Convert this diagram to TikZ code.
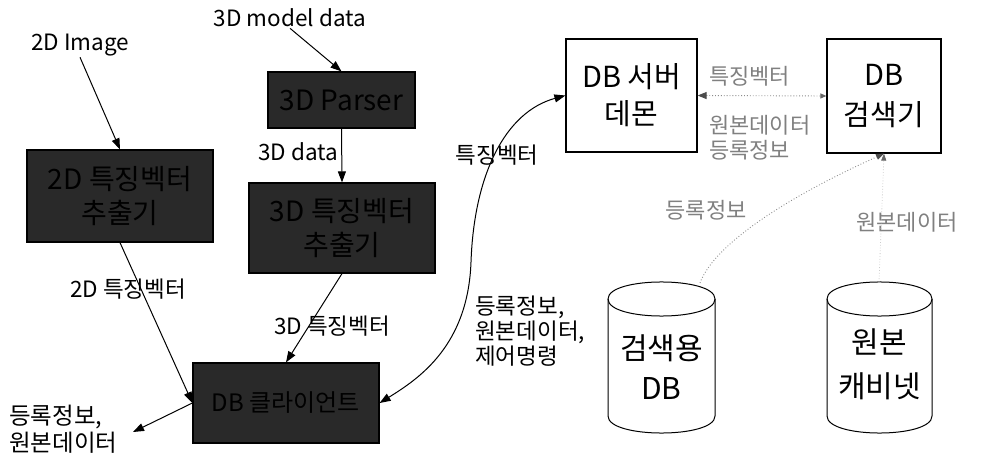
\documentclass[tikz,border=0pt]{standalone}
\usepackage{fontspec}
\setmainfont{Noto Sans CJK KR}
\usetikzlibrary{arrows.meta,calc}
\begin{document}
\begin{tikzpicture}[x=1pt,y=-1pt,
  arr/.style={-{Triangle[length=11pt,width=8pt]}, line width=1pt},
  dark/.style={draw=black, line width=1.2pt, fill=black!84, text=black, font=\fontsize{28}{34}\selectfont, align=center, inner sep=0pt},
  wbox/.style={draw, line width=1.2pt, align=center, inner sep=0pt, fill=white},
  lbl/.style={font=\fontsize{22.5}{25}\selectfont, inner sep=1pt, align=left},
  glbl/.style={lbl, text=black!50, font=\fontsize{22}{25}\selectfont},
  dots/.style={dotted, black!45, line width=0.9pt},
  cyl/.style={line width=1pt}]
\useasboundingbox (0,0) rectangle (993,465);

% dark processing boxes
\node[dark, minimum width=186pt, minimum height=92pt] (img2d) at (120,196) {2D 특징벡터\\추출기};
\node[dark, minimum width=147pt, minimum height=56pt] (parser) at (341.5,100) {3D Parser};
\node[dark, minimum width=186pt, minimum height=90pt] (feat3d) at (342,228) {3D 특징벡터\\추출기};
\node[dark, minimum width=186pt, minimum height=80pt, font=\fontsize{24}{30}\selectfont] (client) at (286,403) {DB 클라이언트};

% white boxes
\node[wbox, minimum width=131pt, minimum height=113pt, font=\fontsize{29}{37}\selectfont] (server) at (631.5,95.5) {DB 서버\\데몬};
\node[wbox, minimum width=114pt, minimum height=114pt, font=\fontsize{29}{40}\selectfont] (search) at (884,96) {DB\\검색기};

% cylinders
\draw[cyl] (608,299) -- (608,416) .. controls (608,438.7) and (715,438.7) .. (715,416) -- (715,299);
\draw[cyl] (608,299) .. controls (608,276.3) and (715,276.3) .. (715,299) .. controls (715,321.7) and (608,321.7) .. (608,299);
\node[font=\fontsize{30}{40}\selectfont, align=center] (cyl1) at (661.5,367) {검색용\\DB};
\draw[cyl] (827,299) -- (827,416) .. controls (827,438.7) and (932,438.7) .. (932,416) -- (932,299);
\draw[cyl] (827,299) .. controls (827,276.3) and (932,276.3) .. (932,299) .. controls (932,321.7) and (827,321.7) .. (827,299);
\node[font=\fontsize{30}{44}\selectfont, align=center] (cyl2) at (879.5,364) {원본\\캐비넷};
\coordinate (cyl1top) at (700,283);
\coordinate (cyl2top) at (879,282);

% labels
\node[lbl] (l2dimg) at (80,45) {2D Image};
\node[lbl] (l3dmodel) at (290,18) {3D model data};
\node[lbl] (l3ddata) at (298,152) {3D data};
\node[lbl] (l2dfeat) at (128,289) {2D 특징벡터};
\node[lbl] (l3dfeat) at (332,326) {3D 특징벡터};
\node[lbl, anchor=west, font=\fontsize{23.5}{27}\selectfont] (lout) at (8,429) {등록정보,\\원본데이터};
\node[lbl] (lfeat) at (497,155) {특징벡터};
\node[lbl, anchor=west] (lreg) at (474,331) {등록정보,\\원본데이터,\\제어명령};
\node[glbl, anchor=west] (gfeat) at (708,76) {특징벡터};
\node[glbl, anchor=west, align=left] (gorig) at (708,137.5) {원본데이터\\등록정보};
\node[glbl] (greg) at (706,210) {등록정보};
\node[glbl] (gorig2) at (907,222) {원본데이터};

% connectors
\coordinate (outend) at (133,432);
\draw[arr] (l2dimg.south) -- (img2d.north);
\draw[arr] (l3dmodel.south) -- (parser.north);
\draw[arr] (parser.south) -- (feat3d.north);
\draw[arr] (img2d.south) -- (client.west);
\draw[arr] (feat3d.south) -- (client.north);
\draw[arr] (client.west) -- (outend);
\coordinate (c1) at (471,262);
\draw[{Triangle[length=11pt,width=8pt]}-{Triangle[length=11pt,width=8pt]}, line width=1pt]
  (client.east) .. controls (420,378) and (468,345) .. (c1)
  .. controls (474,175) and (505,112) .. (server.west);
\draw[dots, {Triangle[length=9pt,width=7pt,fill=black!70,color=black!70]}-{Triangle[length=6pt,width=5pt,fill=black!60,color=black!60]}]
  (server.east) -- (search.west);
\draw[dots, -{Triangle[length=8pt,width=6pt,fill=black!70,color=black!70]}]
  (cyl1top) .. controls (712,250) and (770,205) .. (search.south);
\draw[dotted, black!20, line width=0.8pt, -{Triangle[length=7pt,width=5pt,fill=black!60,color=black!60]}]
  (cyl2top) -- (search.south);
\end{tikzpicture}
\end{document}
